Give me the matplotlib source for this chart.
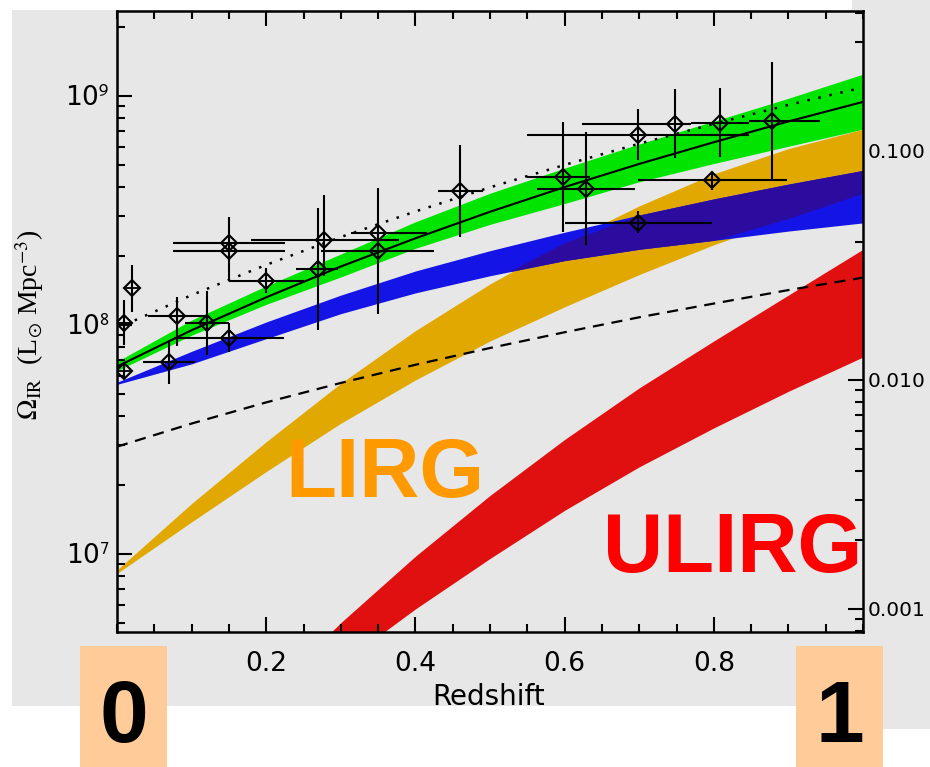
import numpy as np
import matplotlib
matplotlib.use("Agg")
import matplotlib.pyplot as plt
from matplotlib.patches import Rectangle
from matplotlib.ticker import (FixedLocator, MultipleLocator, LogLocator,
                               NullFormatter, FuncFormatter)

plt.rcParams['font.family'] = ['DejaVu Sans']
plt.rcParams['mathtext.fontset'] = 'stix'

# model curves sampled every 0.1 in redshift (L_sun Mpc^-3)
z_model = [0.0, 0.1, 0.2, 0.3, 0.4, 0.5, 0.6, 0.7, 0.8, 0.9, 1.0]
total_fit = [6.58e7, 9.48e7, 1.32e8, 1.80e8, 2.39e8, 3.12e8, 4.00e8, 5.05e8, 6.28e8, 7.74e8, 9.42e8]
dashed_fit = [2.94e7, 3.71e7, 4.59e7, 5.58e7, 6.70e7, 7.93e7, 9.29e7, 1.08e8, 1.24e8, 1.42e8, 1.61e8]
green_lo = [6.31e7, 9.02e7, 1.23e8, 1.62e8, 2.16e8, 2.75e8, 3.39e8, 4.22e8, 5.07e8, 6.03e8, 7.16e8]
green_hi = [6.92e7, 1.05e8, 1.48e8, 2.04e8, 2.82e8, 3.76e8, 4.84e8, 6.17e8, 7.76e8, 9.77e8, 1.245e9]
blue_lo = [5.50e7, 6.76e7, 8.71e7, 1.12e8, 1.38e8, 1.64e8, 1.91e8, 2.14e8, 2.34e8, 2.57e8, 2.79e8]
blue_hi = [5.62e7, 7.67e7, 1.03e8, 1.35e8, 1.72e8, 2.11e8, 2.54e8, 3.02e8, 3.55e8, 4.12e8, 4.73e8]
lirg_lo = [8.22e6, 1.38e7, 2.29e7, 3.72e7, 5.75e7, 8.51e7, 1.20e8, 1.66e8, 2.24e8, 2.92e8, 3.76e8]
lirg_hi = [8.51e6, 1.66e7, 3.09e7, 5.56e7, 9.44e7, 1.51e8, 2.29e8, 3.31e8, 4.57e8, 5.89e8, 7.16e8]

z_dotted = [0.01, 0.1, 0.2, 0.3, 0.4, 0.5, 0.6, 0.7, 0.8, 0.9, 1.0]
dotted_fit = [1.00e8, 1.35e8, 1.83e8, 2.42e8, 3.13e8, 3.99e8, 5.00e8, 6.19e8, 7.55e8, 9.14e8, 1.09e9]

z_ulirg = [0.2, 0.3, 0.4, 0.5, 0.6, 0.7, 0.8, 0.9, 1.0]
ulirg_lo = [1.82e6, 3.31e6, 5.75e6, 9.55e6, 1.55e7, 2.40e7, 3.55e7, 5.13e7, 7.24e7]
ulirg_hi = [2.40e6, 5.01e6, 9.77e6, 1.80e7, 3.16e7, 5.31e7, 8.51e7, 1.35e8, 2.14e8]

# measurements
z_pts = [0.010, 0.020, 0.010, 0.070, 0.080, 0.120, 0.150, 0.150, 0.150, 0.200, 0.270, 0.278,
         0.350, 0.350, 0.460, 0.598, 0.629, 0.698, 0.698, 0.748, 0.808, 0.878, 0.798]
z_lo = [0.003, 0.020, 0.010, 0.035, 0.041, 0.091, 0.076, 0.075, 0.075, 0.150, 0.240, 0.180,
        0.314, 0.274, 0.430, 0.550, 0.563, 0.600, 0.550, 0.623, 0.770, 0.847, 0.698]
z_hi = [0.017, 0.020, 0.010, 0.105, 0.119, 0.150, 0.224, 0.225, 0.225, 0.250, 0.296, 0.378,
        0.416, 0.425, 0.491, 0.634, 0.694, 0.798, 0.847, 0.770, 0.847, 0.943, 0.898]
omega = [1.02e8, 1.45e8, 6.3e7, 6.9e7, 1.09e8, 1.02e8, 8.75e7, 2.29e8, 2.10e8, 1.56e8, 1.75e8, 2.35e8,
         2.51e8, 2.11e8, 3.85e8, 4.41e8, 3.93e8, 2.78e8, 6.77e8, 7.55e8, 7.64e8, 7.80e8, 4.30e8]
omega_lo = [8.2e7, 1.14e8, 6.0e7, 5.5e7, 8.1e7, 7.4e7, 7.6e7, 2.10e8, 1.55e8, 1.38e8, 9.5e7, 1.63e8,
            2.11e8, 1.12e8, 2.43e8, 2.55e8, 2.23e8, 2.51e8, 5.26e8, 5.35e8, 5.43e8, 4.30e8, 3.89e8]
omega_hi = [1.285e8, 1.83e8, 6.6e7, 8.6e7, 1.33e8, 1.40e8, 1.02e8, 2.97e8, 2.29e8, 1.77e8, 3.24e8, 3.70e8,
            3.95e8, 2.51e8, 6.1e8, 7.7e8, 6.98e8, 3.13e8, 8.75e8, 1.07e9, 1.08e9, 1.41e9, 4.67e8]

W, H = 930, 767
fig = plt.figure(figsize=(W / 100, H / 100), dpi=100, facecolor='white')
gray = '#e7e7e7'
fig.patches.append(Rectangle((12 / W, 1 - 706 / H), (W - 12) / W, 696 / H,
                             transform=fig.transFigure, facecolor=gray, edgecolor='none', zorder=-10))
fig.patches.append(Rectangle((852 / W, 1 - 729 / H), 78 / W, 729 / H,
                             transform=fig.transFigure, facecolor=gray, edgecolor='none', zorder=-10))

x0, x1, y0, y1 = 117, 863, 11, 632
ax = fig.add_axes([x0 / W, 1 - y1 / H, (x1 - x0) / W, (y1 - y0) / H])
ax.patch.set_visible(False)
ax.set_zorder(2)

ax.set_yscale('log')
ax.set_xlim(0, 1.0)
ax.set_ylim(4.56e6, 2.35e9)

z = np.array(z_model)
ax.fill_between(z, green_lo, green_hi, color='#00e400', lw=0)
ax.fill_between(z, lirg_lo, lirg_hi, color='#e0a800', lw=0)
ax.fill_between(z, blue_lo, blue_hi, color='#1414e6', lw=0)
olap_lo = np.maximum(blue_lo, lirg_lo)
olap_hi = np.minimum(blue_hi, lirg_hi)
ax.fill_between(z, olap_lo, olap_hi, where=olap_hi > olap_lo, interpolate=True,
                color='#2c0c9e', lw=0)
ax.fill_between(z_ulirg, ulirg_lo, ulirg_hi, color='#e01010', lw=0)

ax.plot(z_model, total_fit, color='black', lw=1.5)
ax.plot(z_dotted, dotted_fit, color='black', lw=1.8, ls=(0, (1, 3.5)))
ax.plot(z_model, dashed_fit, color='black', lw=1.6, ls=(0, (5, 3.5)))

zp = np.array(z_pts)
om = np.array(omega)
ax.errorbar(zp, om, xerr=[zp - np.array(z_lo), np.array(z_hi) - zp],
            yerr=[om - np.array(omega_lo), np.array(omega_hi) - om],
            fmt='none', ecolor='black', elinewidth=1.5, capsize=0)
ax.plot(zp, om, 'D', ms=8, mfc='none', mec='black', mew=1.5)
ax.plot(zp, om, '+', ms=11, mec='black', mew=1.3)

# ticks
ax.xaxis.set_major_locator(FixedLocator([0.2, 0.4, 0.6, 0.8]))
ax.xaxis.set_minor_locator(MultipleLocator(0.05))
ax.xaxis.set_major_formatter(FuncFormatter(lambda v, p: f'{v:.1f}'))
ax.yaxis.set_major_locator(LogLocator(base=10))
ax.yaxis.set_minor_locator(LogLocator(base=10, subs=np.arange(2, 10)))
ax.yaxis.set_minor_formatter(NullFormatter())
ax.yaxis.set_major_formatter(FuncFormatter(
    lambda v, p: '10$^{\\mathsf{%d}}$' % round(np.log10(v))))
ax.tick_params(which='both', direction='in', top=True, right=False, width=1.5, labelsize=19)
ax.tick_params(which='major', length=11)
ax.tick_params(which='minor', length=6)
ax.tick_params(axis='x', pad=14)
ax.tick_params(axis='y', pad=5)
for s in ax.spines.values():
    s.set_linewidth(1.8)

# right axis in units of the critical density fraction, drawn below the bands
ax2 = ax.twinx()
ax2.set_zorder(1)
ax2.set_yscale('log')
scale = 1.738e-10
ax2.set_ylim(4.56e6 * scale, 2.35e9 * scale)
ax2.yaxis.set_major_locator(FixedLocator([0.001, 0.01, 0.1]))
ax2.yaxis.set_minor_locator(LogLocator(base=10, subs=np.arange(2, 10)))
ax2.yaxis.set_minor_formatter(NullFormatter())
ax2.yaxis.set_major_formatter(FuncFormatter(lambda v, p: f'{v:.3f}'))
ax2.tick_params(which='both', direction='in', width=1.5, labelsize=14.5, pad=3)
ax2.tick_params(which='major', length=11)
ax2.tick_params(which='minor', length=6)
for s in ax2.spines.values():
    s.set_visible(False)

fig.text(30 / W, 1 - 325 / H, r'$\Omega_{\rm IR}$  (L$_{\odot}$ Mpc$^{-3}$)',
         rotation=90, ha='center', va='center', fontsize=20, family='Liberation Serif')
fig.text(489 / W, 1 - 697 / H, 'Redshift', ha='center', va='center', fontsize=20)

fig.text(285 / W, 1 - 497 / H, 'LIRG', color='#ff9900', fontsize=60, family='Liberation Sans',
         fontweight='bold', ha='left', va='baseline', zorder=6)
fig.text(603 / W, 1 - 572 / H, 'ULIRG', color='#ff0000', fontsize=60, family='Liberation Sans',
         fontweight='bold', ha='left', va='baseline', zorder=6)

# redshift markers at the axis ends
for left, label in [(80, '0'), (796, '1')]:
    fig.patches.append(Rectangle((left / W, 0), 87 / W, 121 / H, transform=fig.transFigure,
                                 facecolor='#ffcc99', edgecolor='none', zorder=5))
    fig.text((left + 43.5) / W, 1 - 742 / H, label, fontsize=63, fontweight='bold',
             family='Liberation Sans', ha='center', va='baseline', color='black', zorder=6)

fig.savefig('out.png', dpi=100, facecolor='white')
